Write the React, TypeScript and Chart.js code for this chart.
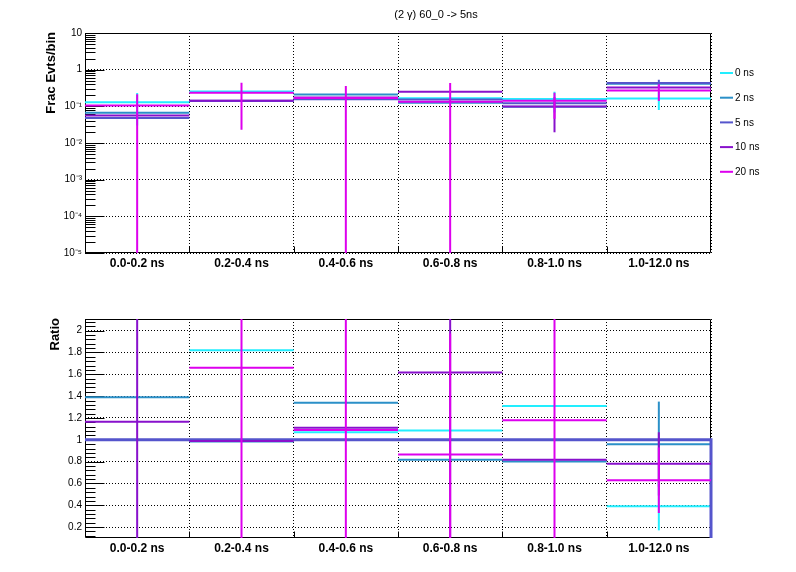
import React, { useEffect, useRef } from "react";
import { Chart, registerables } from "chart.js";
Chart.register(...registerables);

// ---------- data ----------
const binLabels = ["0.0-0.2 ns", "0.2-0.4 ns", "0.4-0.6 ns", "0.6-0.8 ns", "0.8-1.0 ns", "1.0-12.0 ns"];
const seriesNames = ["0 ns", "2 ns", "5 ns", "10 ns", "20 ns"];
const seriesColors = ["#22eeff", "#2b90c8", "#5555cc", "#8811cc", "#dd00ee"];

const frac0 = [0.13, 0.253, 0.166, 0.167, 0.158, 0.163];
const frac2 = [0.067, 0.14, 0.209, 0.126, 0.097, 0.413];
const frac5 = [0.048, 0.142, 0.156, 0.154, 0.121, 0.43];
const frac10 = [0.056, 0.141, 0.173, 0.249, 0.0986, 0.326];
const frac20 = [0.105, 0.233, 0.17, 0.133, 0.141, 0.27];

const fracErr0 = [0.1, 0, 0, 0, 0.09, 0.083];
const fracErr2 = [0, 0, 0, 0, 0, 0];
const fracErr5 = [0, 0, 0, 0, 0, 0.1];
const fracErr10 = [0, 0, 0, 0, 0.079, 0];
const fracErr20 = [0.11, 0.21, 0.19, 0.3, 0.095, 0.13];

const ratio0 = [2.71, 1.82, 1.07, 1.085, 1.31, 0.39];
const ratio2 = [1.39, 0.985, 1.34, 0.816, 0.8, 0.96];
const ratio5 = [1, 1, 1, 1, 1, 1];
const ratio10 = [1.165, 0.99, 1.11, 1.616, 0.816, 0.78];
const ratio20 = [2.19, 1.66, 1.09, 0.865, 1.18, 0.63];

const ratioErr0 = [0, 0, 0, 0, 0, 0.22];
const ratioErr2 = [0, 0, 0, 0, 0, 0.39];
const ratioErr5 = [0, 0, 0, 0, 0, 0];
const ratioErr10 = [2.5, 0, 0, 2.5, 0, 0.29];
const ratioErr20 = [0, 2.5, 1.5, 1.11, 1.5, 0.3];

const topTickValues = [1e-5, 1e-4, 1e-3, 1e-2, 1e-1, 1, 10];
const topTickLabels = ["10\u207B\u2075", "10\u207B\u2074", "10\u207B\u00B3", "10\u207B\u00B2", "10\u207B\u00B9", "1", "10"];
const ratioTickValues = [0.2, 0.4, 0.6, 0.8, 1.0, 1.2, 1.4, 1.6, 1.8, 2.0];
const ratioTickLabels = ["0.2", "0.4", "0.6", "0.8", "1", "1.2", "1.4", "1.6", "1.8", "2"];

const titleText = "(2 \u03B3) 60_0 -> 5ns";
const topYTitle = "Frac Evts/bin";
const botYTitle = "Ratio";

// ---------- helpers ----------
const FONT = '"Liberation Sans", Arial, Helvetica, sans-serif';

function segPoints(vals: number[]) {
  const pts: any[] = [];
  vals.forEach((v, i) => {
    pts.push({ x: i, y: v }, { x: i + 1, y: v }, { x: i + 1, y: null });
  });
  return pts;
}
function errPoints(vals: number[], errs: number[], floor: number) {
  const pts: any[] = [];
  vals.forEach((v, i) => {
    const e = errs[i];
    if (!e) return;
    pts.push({ x: i + 0.5, y: Math.max(v - e, floor) }, { x: i + 0.5, y: v + e }, { x: i + 0.5, y: null });
  });
  return pts;
}
function lineDs(data: any[], color: string, width: number, clip?: any) {
  const ds: any = {
    data,
    borderColor: color,
    backgroundColor: color,
    borderWidth: width,
    pointRadius: 0,
    pointHoverRadius: 0,
    tension: 0,
    fill: false,
    spanGaps: false,
    borderCapStyle: "butt",
    xAxisID: "x",
    yAxisID: "y",
  };
  if (clip !== undefined) ds.clip = clip;
  return ds;
}

function xScales(labelHeight: number) {
  return {
    x: {
      type: "linear",
      min: 0,
      max: 6,
      position: "bottom",
      ticks: { display: false, stepSize: 1 },
      grid: { color: "#000", lineWidth: 1, drawTicks: false },
      border: { display: false, dash: [1, 2] },
      afterFit: (s: any) => {
        s.height = 0;
      },
    },
    xl: {
      type: "category",
      labels: binLabels,
      offset: true,
      position: "bottom",
      grid: { display: false, drawTicks: false },
      border: { display: false },
      ticks: {
        color: "#000",
        font: { family: FONT, size: 12, weight: "bold" },
        padding: 3,
        maxRotation: 0,
        minRotation: 0,
        autoSkip: false,
      },
      afterFit: (s: any) => {
        s.height = labelHeight;
      },
    },
  };
}

function decorPlugin(kind: "top" | "bottom") {
  return {
    id: "decor_" + kind,
    beforeDatasetsDraw(chart: any) {
      const { ctx, chartArea: a, scales } = chart;
      const y = scales.y;
      const x = scales.x;
      ctx.save();
      ctx.strokeStyle = "#000";
      ctx.lineWidth = 1;
      const L = Math.round(a.left) + 0.5;
      const R = Math.round(a.right) - 0.5;
      const T = Math.round(a.top) + 0.5;
      const B = Math.round(a.bottom) - 0.5;
      ctx.beginPath();
      ctx.rect(L, T, R - L, B - T);
      const majors = kind === "top" ? topTickValues : ratioTickValues;
      const minors: number[] = [];
      if (kind === "top") {
        for (let k = -5; k < 1; k++) for (let m = 2; m <= 9; m++) minors.push(m * Math.pow(10, k));
      } else {
        for (let i = 3; i <= 52; i++) {
          const v = i * 0.04;
          if (Math.abs(v / 0.2 - Math.round(v / 0.2)) > 1e-6 && v > y.min && v < y.max) minors.push(v);
        }
      }
      majors.forEach((v) => {
        const py = Math.round(y.getPixelForValue(v)) + 0.5;
        ctx.moveTo(L, py);
        ctx.lineTo(L + 19, py);
      });
      minors.forEach((v) => {
        const py = Math.round(y.getPixelForValue(v)) + 0.5;
        ctx.moveTo(L, py);
        ctx.lineTo(L + 10, py);
      });
      for (let i = 1; i < binLabels.length; i++) {
        const px = Math.round(x.getPixelForValue(i)) + 0.5;
        ctx.moveTo(px, B);
        ctx.lineTo(px, B - 6);
      }
      ctx.stroke();
      ctx.restore();
    },
    afterDraw(chart: any) {
      const { ctx, chartArea: a } = chart;
      ctx.save();
      ctx.fillStyle = "#000";
      ctx.font = `bold 13px ${FONT}`;
      ctx.textBaseline = "middle";
      ctx.textAlign = "right";
      ctx.translate(kind === "top" ? 51 : 55.5, a.top - 1);
      ctx.rotate(-Math.PI / 2);
      ctx.fillText(kind === "top" ? topYTitle : botYTitle, 0, 0);
      ctx.restore();
      if (kind === "top") {
        ctx.save();
        ctx.fillStyle = "#000";
        ctx.font = `11px ${FONT}`;
        ctx.textAlign = "center";
        ctx.textBaseline = "middle";
        ctx.fillText(titleText, 436, 15);
        ctx.font = `10px ${FONT}`;
        ctx.textAlign = "left";
        seriesNames.forEach((name, k) => {
          const ly = 73 + k * 24.7;
          ctx.strokeStyle = seriesColors[k];
          ctx.lineWidth = 2;
          ctx.beginPath();
          ctx.moveTo(720, ly);
          ctx.lineTo(733, ly);
          ctx.stroke();
          ctx.fillStyle = "#000";
          ctx.fillText(name, 735, ly + 0.5);
        });
        ctx.restore();
      }
    },
  };
}

function topConfig(): any {
  const vals = [frac0, frac2, frac5, frac10, frac20];
  const errs = [fracErr0, fracErr2, fracErr5, fracErr10, fracErr20];
  const datasets: any[] = [];
  vals.forEach((v, k) => {
    datasets.push(lineDs(segPoints(v), seriesColors[k], 2));
    datasets.push(lineDs(errPoints(v, errs[k], 1e-7), seriesColors[k], 2));
  });
  datasets.reverse(); // first dataset is drawn on top in Chart.js
  return {
    type: "line",
    data: { datasets },
    plugins: [decorPlugin("top")],
    options: {
      animation: false,
      responsive: false,
      devicePixelRatio: 1,
      events: [],
      layout: { padding: { left: 0, right: 85, top: 33, bottom: 0 } },
      plugins: { legend: { display: false }, tooltip: { enabled: false }, title: { display: false } },
      scales: {
        ...xScales(33),
        y: {
          type: "logarithmic",
          min: 1e-5,
          max: 10,
          afterBuildTicks: (s: any) => {
            s.ticks = topTickValues.map((v) => ({ value: v }));
          },
          ticks: {
            callback: (_v: any, i: number) => topTickLabels[i],
            color: "#000",
            font: { family: FONT, size: 10 },
            padding: 3,
            autoSkip: false,
          },
          grid: { color: "#000", lineWidth: 1, drawTicks: false },
          border: { display: false, dash: [1, 2] },
          afterFit: (s: any) => {
            s.width = 85;
          },
        },
      },
    },
  };
}

function bottomConfig(): any {
  const vals = [ratio0, ratio2, ratio5, ratio10, ratio20];
  const errs = [ratioErr0, ratioErr2, ratioErr5, ratioErr10, ratioErr20];
  const datasets: any[] = [];
  vals.forEach((v, k) => {
    if (k === 2) {
      const pts: any[] = [];
      v.forEach((val, i) => {
        pts.push({ x: i, y: val }, { x: i + 1, y: val });
      });
      pts.push({ x: v.length, y: 0 });
      datasets.push(lineDs(pts, seriesColors[k], 3, { left: 0, top: 0, right: 2, bottom: 0 }));
    } else {
      datasets.push(lineDs(segPoints(v), seriesColors[k], 2));
    }
    datasets.push(lineDs(errPoints(v, errs[k], -10), seriesColors[k], 2));
  });
  datasets.reverse();
  return {
    type: "line",
    data: { datasets },
    plugins: [decorPlugin("bottom")],
    options: {
      animation: false,
      responsive: false,
      devicePixelRatio: 1,
      events: [],
      layout: { padding: { left: 0, right: 85, top: 33, bottom: 0 } },
      plugins: { legend: { display: false }, tooltip: { enabled: false }, title: { display: false } },
      scales: {
        ...xScales(34),
        y: {
          type: "linear",
          min: 0.1,
          max: 2.107,
          afterBuildTicks: (s: any) => {
            s.ticks = ratioTickValues.map((v) => ({ value: v }));
          },
          ticks: {
            callback: (_v: any, i: number) => ratioTickLabels[i],
            color: "#000",
            font: { family: FONT, size: 10 },
            padding: 3,
            autoSkip: false,
          },
          grid: { color: "#000", lineWidth: 1, drawTicks: false },
          border: { display: false, dash: [1, 2] },
          afterFit: (s: any) => {
            s.width = 85;
          },
        },
      },
    },
  };
}

export default function App() {
  const topRef = useRef<HTMLCanvasElement>(null);
  const botRef = useRef<HTMLCanvasElement>(null);
  useEffect(() => {
    const c1 = new Chart(topRef.current as HTMLCanvasElement, topConfig());
    const c2 = new Chart(botRef.current as HTMLCanvasElement, bottomConfig());
    return () => {
      c1.destroy();
      c2.destroy();
    };
  }, []);
  return (
    <div style={{ position: "absolute", left: 0, top: 0, width: 796, height: 572, background: "#fff" }}>
      <canvas
        ref={topRef}
        width={796}
        height={286}
        style={{ position: "absolute", left: 0, top: 0, width: 796, height: 286, display: "block" }}
      />
      <canvas
        ref={botRef}
        width={796}
        height={286}
        style={{ position: "absolute", left: 0, top: 286, width: 796, height: 286, display: "block" }}
      />
    </div>
  );
}
